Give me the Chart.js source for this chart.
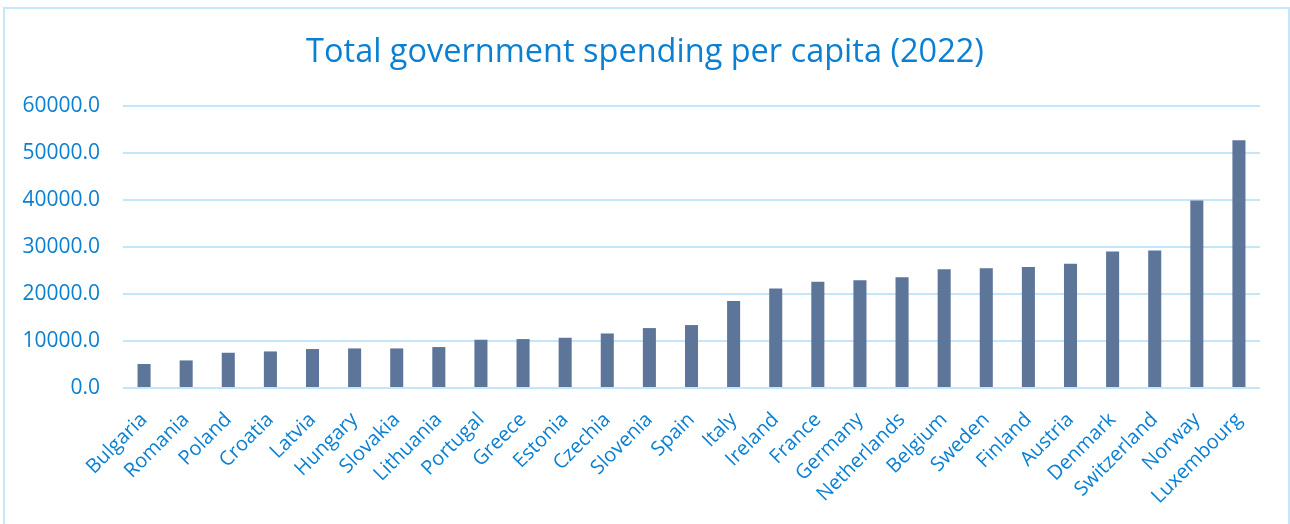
<!DOCTYPE html>
<html>
<head>
<meta charset="utf-8">
<title>Total government spending per capita (2022)</title>
<script src="https://cdn.jsdelivr.net/npm/chart.js@4/dist/chart.umd.min.js"></script>
<style>
    html, body { margin: 0; padding: 0; background: #ffffff; overflow: hidden; }
    #wrap { position: relative; width: 1290px; height: 524px; }
    #frame {
        position: absolute; left: 3px; top: 7px; width: 1283px; height: 540px;
        border: 2px solid #c6e6f9; pointer-events: none;
    }
</style>
</head>
<body>
<div id="wrap">
    <canvas id="spendingChart" width="1290" height="524"></canvas>
    <div id="frame"></div>
</div>
<script>
    // Per-capita spending by country, 2022
    const countries = ['Bulgaria', 'Romania', 'Poland', 'Croatia', 'Latvia', 'Hungary', 'Slovakia',
        'Lithuania', 'Portugal', 'Greece', 'Estonia', 'Czechia', 'Slovenia', 'Spain', 'Italy',
        'Ireland', 'France', 'Germany', 'Netherlands', 'Belgium', 'Sweden', 'Finland', 'Austria',
        'Denmark', 'Switzerland', 'Norway', 'Luxembourg'];
    const spending = [5100, 5870, 7500, 7780, 8290, 8420, 8420,
        8710, 10270, 10410, 10690, 11600, 12750, 13390, 18490,
        21170, 22590, 22950, 23590, 25290, 25500, 25720, 26420,
        29030, 29250, 39870, 52700];
    const yTicks = [0, 10000, 20000, 30000, 40000, 50000, 60000];

    const textBlue = '#0b80d3';
    const gridBlue = '#c4e6fa';

    const ctx = document.getElementById('spendingChart').getContext('2d');
    const chart = new Chart(ctx, {
        type: 'bar',
        data: {
            labels: countries,
            datasets: [{
                label: 'Spending per capita',
                data: spending,
                backgroundColor: '#5d7599',
                borderWidth: 0,
                barPercentage: 0.31,
                categoryPercentage: 1.0
            }]
        },
        options: {
            responsive: false,
            animation: false,
            layout: {
                padding: { left: 15, right: 15, top: 0, bottom: 0 }
            },
            plugins: {
                legend: { display: false },
                tooltip: { enabled: false },
                title: {
                    display: true,
                    text: 'Total government spending per capita (2022)',
                    color: textBlue,
                    font: { family: 'Open Sans', size: 32.5, weight: 'normal' },
                    padding: { top: 33, bottom: 34 }
                }
            },
            scales: {
                y: {
                    min: yTicks[0],
                    max: yTicks[yTicks.length - 1],
                    afterBuildTicks: function(scale) {
                        scale.ticks = yTicks.map(v => ({ value: v }));
                    },
                    afterFit: function(scale) {
                        scale.width = 108;
                    },
                    border: { display: false },
                    grid: {
                        color: gridBlue,
                        lineWidth: 2,
                        drawTicks: false
                    },
                    ticks: {
                        color: textBlue,
                        padding: 23,
                        font: { family: 'Open Sans', size: 21 },
                        callback: function(value) {
                            return Number(value).toFixed(1);
                        }
                    }
                },
                // empty right-hand gutter so the plot stops short of the frame
                gutter: {
                    position: 'right',
                    afterFit: function(scale) {
                        scale.width = 15;
                    },
                    border: { display: false },
                    grid: { display: false },
                    ticks: { display: false }
                },
                x: {
                    afterFit: function(scale) {
                        scale.height = 136;
                    },
                    border: { display: false },
                    grid: { display: false },
                    ticks: {
                        color: textBlue,
                        autoSkip: false,
                        maxRotation: 45,
                        minRotation: 45,
                        padding: 12,
                        font: { family: 'Open Sans', size: 20 }
                    }
                }
            }
        }
    });
</script>
</body>
</html>
